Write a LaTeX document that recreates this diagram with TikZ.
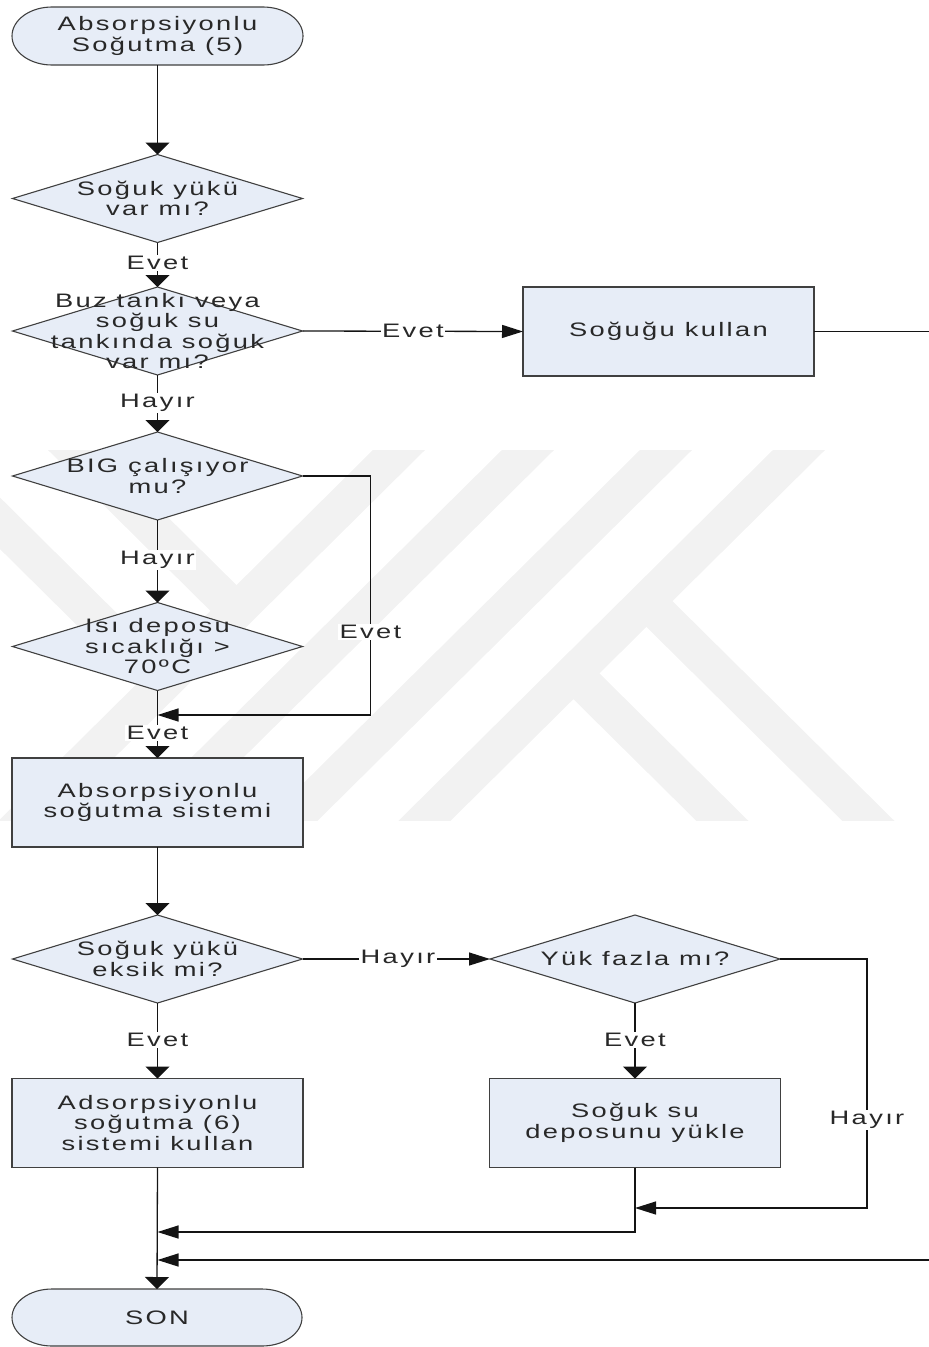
\documentclass[tikz,border=0pt]{standalone}
\usepackage{fontspec}
\setmainfont{Liberation Sans}[FakeStretch=1.4,LetterSpace=12]
\usetikzlibrary{shapes.geometric,arrows.meta,calc}
\definecolor{shapefill}{RGB}{231,237,247}
\definecolor{shapeline}{RGB}{64,64,64}
\definecolor{inkline}{RGB}{20,20,20}
\definecolor{inktext}{RGB}{40,40,40}
\definecolor{wmgray}{RGB}{242,242,242}

\begin{document}
\begin{tikzpicture}[x=1pt,y=-1pt,
  every node/.style={font=\fontsize{19.5}{20.5}\selectfont, text=inktext},
  txt/.style={align=center, inner sep=0pt},
  dia/.style={draw=shapeline, fill=shapefill, line width=1.1pt, shape=diamond,
    minimum width=290pt, minimum height=88pt, inner sep=0pt, outer sep=0pt},
  box/.style={draw=shapeline, fill=shapefill, line width=1.6pt, rectangle,
    minimum width=291pt, minimum height=89pt, inner sep=0pt, outer sep=0pt, align=center},
  termbg/.style={draw=shapeline, fill=shapefill, line width=1.1pt},
  term/.style={rectangle, minimum width=291pt, minimum height=58pt,
    inner sep=0pt, outer sep=0pt, align=center},
  flow/.style={draw=inkline, line width=1.3pt},
  vhead/.style={-{Triangle[length=12pt,width=24pt]}},
  hhead/.style={-{Triangle[length=21pt,width=13pt]}},
  lbl/.style={fill=white, inner sep=1.5pt},
  stripe/.style={draw=wmgray, line width=36.6pt},
]
\useasboundingbox (0,0) rectangle (929,1347);

% faint background emblem
\begin{scope}
  \clip (0,450) rectangle (929,820);
  \draw[stripe] (449.5,400) -- (-25.2,870);
  \draw[stripe] (578.5,400) -- (103.8,870);
  \draw[stripe] (716.5,400) -- (241.8,870);
  \draw[stripe] (849.5,400) -- (374.8,870);
  \draw[stripe] (646.4,601.1) -- (918,870);
  \draw[stripe] (573.4,673.4) -- (772,870);
  \draw[stripe] (23.5,400) -- (236.5,610.9);
  \draw[stripe] (-124.5,400) -- (162.5,684.2);
\end{scope}

% start terminal
\filldraw[termbg] (52,7) -- (263,7) arc[start angle=-90,end angle=90,x radius=40,y radius=29]
  -- (52,65) arc[start angle=90,end angle=270,x radius=40,y radius=29] -- cycle;
\node[term] (t1) at (157.5,36) {Absorpsiyonlu\\Soğutma (5)};

% decisions and processes
\node[dia] (d1) at (157.5,198.5) {};
\node[txt] (d1t) at (d1) {Soğuk yükü\\var mı?};
\node[dia] (d2) at (157.5,331) {};
\node[txt] (d2t) at (d2) {Buz tankı veya\\soğuk su\\tankında soğuk\\var mı?};
\node[box] (b1) at (668.5,331.5) {Soğuğu kullan};
\node[dia] (d3) at (157.5,476) {};
\node[txt] (d3t) at (d3) {BIG çalışıyor\\mu?};
\node[dia] (d4) at (157.5,646.5) {};
\node[txt] (d4t) at (d4) {Isı deposu\\sıcaklığı >\\70ºC};
\node[box] (b2) at (157.5,802.5) {Absorpsiyonlu\\soğutma sistemi};
\node[dia] (d5) at (157.5,959) {};
\node[txt] (d5t) at (d5) {Soğuk yükü\\eksik mi?};
\node[dia] (d6) at (635,959) {};
\node[txt] (d6t) at (d6) {Yük fazla mı?};
\node[box] (b3) at (157.5,1123) {Adsorpsiyonlu\\soğutma (6)\\sistemi kullan};
\node[box] (b4) at (635,1123) {Soğuk su\\deposunu yükle};

% end terminal
\filldraw[termbg] (52,1289) -- (262,1289) arc[start angle=-90,end angle=90,x radius=40,y radius=28.5]
  -- (52,1346) arc[start angle=90,end angle=270,x radius=40,y radius=28.5] -- cycle;
\node[term, minimum height=57pt] (t2) at (157,1317.5) {SON};

% junction points
\coordinate (j1) at (157.5,715);
\coordinate (j2) at (635,1208);
\coordinate (j3) at (157.5,1232);
\coordinate (j4) at (157.5,1260);
\coordinate (exitR) at (929,331.5);
\coordinate (reentry) at (929,1260);

% connectors
\draw[flow,vhead] (t1.south) -- (d1.north);
\draw[flow,vhead] (d1.south) -- (d2.north);
\node[lbl] (l1) at (157.5,263) {Evet};
\draw[flow,hhead] (d2.east) -- (b1.west);
\node[lbl] (l2) at (413,331) {Evet};
\draw[flow] (b1.east) -- (exitR);
\draw[flow,vhead] (d2.south) -- (d3.north);
\node[lbl] (l3) at (157.5,403) {Hayır};
\draw[flow,vhead] (d3.south) -- (d4.north);
\node[lbl] (l4) at (157.5,560) {Hayır};
\draw[flow,hhead] (d3.east) -- ++(68,0) |- (j1);
\node[lbl] (l5) at (370.5,632) {Evet};
\draw[flow,vhead] (d4.south) -- (b2.north);
\node[lbl] (l6) at (157.5,733) {Evet};
\draw[flow,vhead] (b2.south) -- (d5.north);
\draw[flow,hhead] (d5.east) -- (d6.west);
\node[lbl] (l7) at (398,959) {Hayır};
\draw[flow,vhead] (d5.south) -- (b3.north);
\node[lbl] (l8) at (157.5,1040) {Evet};
\draw[flow,vhead] (d6.south) -- (b4.north);
\node[lbl] (l9) at (635,1040) {Evet};
\draw[flow,hhead] (d6.east) -- ++(87,0) |- (j2);
\node[lbl] (l10) at (867,1120) {Hayır};
\draw[flow,hhead] (b4.south) |- (j3);
\draw[flow,hhead] (reentry) -- (j4);
\draw[flow,vhead] (b3.south) -- (t2.north);
\end{tikzpicture}
\end{document}
